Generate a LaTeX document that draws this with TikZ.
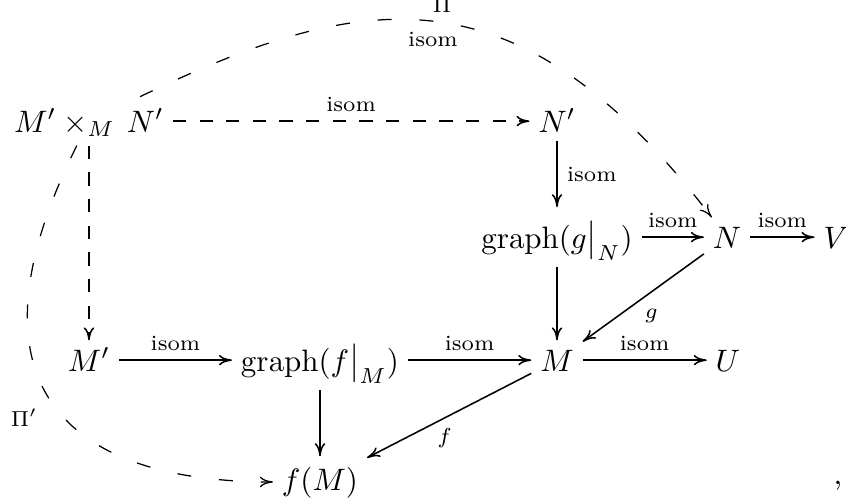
\documentclass[tikz,border=0pt]{standalone}
\usetikzlibrary{arrows.meta}
\begin{document}
\begin{tikzpicture}[x=0.3226pt, y=-0.3226pt,
  obj/.style={inner sep=0pt, outer sep=2.9pt, anchor=base, text height=7pt, text depth=0pt},
  tipx/.style={-{Computer Modern Rightarrow[length=4.2pt,width=3.4pt]}},
  ar/.style={line width=0.5pt, tipx},
  dar/.style={ar, dash pattern=on 4.3pt off 4.3pt},
  car/.style={line width=0.4pt, dash pattern=on 4.5pt off 9pt, tipx},
  lab/.style={font=\scriptsize, inner sep=0pt}]
\useasboundingbox (0,0) rectangle (846,499);
% objects
\node[obj, text height=8.5pt, text depth=1.5pt] (prod) at (89,132) {$M'\times_M\,N'$};
\node[obj] (Np) at (557,132) {$N'$};
\node[obj, text height=10.3pt, text depth=3.3pt] (gg) at (557,248) {$\mathrm{graph}(g\big|_N)$};
\node[obj] (N) at (727,248) {$N$};
\node[obj] (V) at (836,248) {$V$};
\node[obj] (Mp) at (89,371) {$M'$};
\node[obj, text height=10.3pt, text depth=3.3pt] (gf) at (320,371) {$\mathrm{graph}(f\big|_M)$};
\node[obj] (M) at (557,371) {$M$};
\node[obj] (U) at (728,371) {$U$};
\node[obj, text height=8pt, text depth=2.8pt] (fM) at (320,490) {$f(M)$};
\node[anchor=base, inner sep=0pt] (comma) at (838,484) {,};
% arrows
\draw[dar] (prod) -- node[lab, above=2.9pt] (l1) {isom} (Np);
\draw[ar] (Np) -- node[lab, right=3pt] (l2) {isom} (gg);
\draw[ar] (gg) -- node[lab, above=2.9pt] (l3) {isom} (N);
\draw[ar] (N) -- node[lab, above=2.9pt] (l4) {isom} (V);
\draw[ar] (gg) -- (M);
\draw[ar] (N) -- node[lab, xshift=2.6pt, yshift=-6pt] (l5) {$g$} (M);
\draw[dar] (prod) -- (Mp);
\draw[ar] (Mp) -- node[lab, above=2.9pt] (l6) {isom} (gf);
\draw[ar] (gf) -- node[lab, above=2.9pt] (l7) {isom} (M);
\draw[ar] (M) -- node[lab, above=2.9pt] (l8) {isom} (U);
\draw[ar] (gf) -- (fM);
\draw[ar] (M) -- node[lab, xshift=-1.45pt, yshift=-7.4pt] (l9) {$f$} (fM);
% curved arrows
\draw[car] (prod) .. controls (366,-11.7) and (518,-34.5) ..
  node[pos=0.5, lab, xshift=1.3pt, yshift=5.3pt] (l10) {$\Pi$}
  node[pos=0.5, lab, xshift=-1.6pt, yshift=-5.8pt] (l11) {isom} (N);
\draw[car] (prod) .. controls (-40,380) and (60,482) ..
  node[pos=0.5, lab, xshift=-8.7pt, yshift=-5.2pt] (l12) {$\Pi'$} (fM);
\end{tikzpicture}
\end{document}
